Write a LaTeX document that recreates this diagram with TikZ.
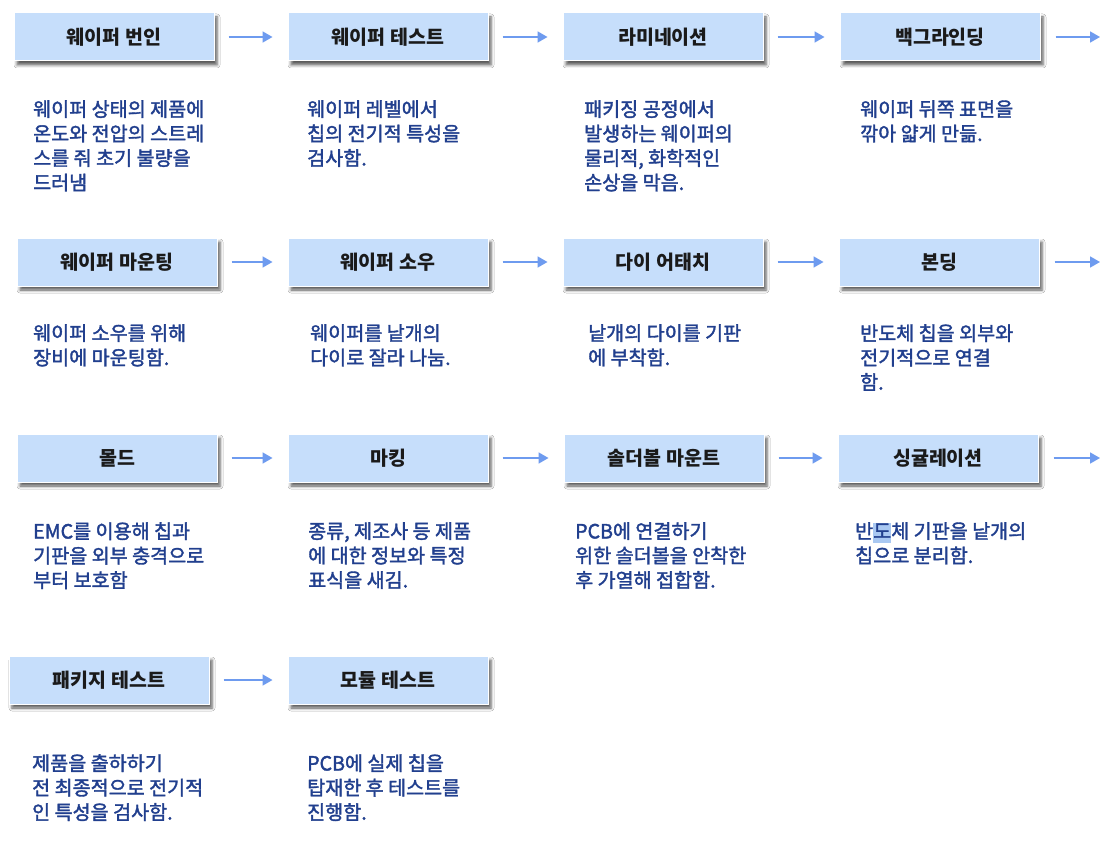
\documentclass[tikz,border=0pt]{standalone}
\usepackage{fontspec}
\newfontfamily\kr{Noto Sans CJK KR}
\newfontfamily\krmed[FakeBold=1.8]{Noto Sans CJK KR}
\usetikzlibrary{arrows.meta,shadows.blur}
\definecolor{boxfill}{HTML}{C6DEFB}
\definecolor{arrowblue}{HTML}{6E9BEF}
\definecolor{descblue}{HTML}{213F8E}
\definecolor{titleink}{HTML}{1A1A1A}
\definecolor{selblue}{HTML}{A9C8F2}
\setlength{\fboxsep}{0pt}
\newcommand{\selhl}[1]{\colorbox{selblue}{\rule[-5pt]{0pt}{20pt}#1}}
\tikzset{
  stepbox/.style={rectangle, fill=boxfill, draw=white, line width=1pt,
    minimum width=200pt, minimum height=48pt, inner sep=0pt,
    font=\kr\bfseries\fontsize{19.5}{22}\selectfont, text=titleink,
    blur shadow={shadow xshift=3pt, shadow yshift=-4pt, shadow blur radius=3pt, shadow opacity=65}},
  desc/.style={anchor=north west, inner sep=0pt, align=left, text=descblue,
    font=\krmed\fontsize{19.6}{24.5}\selectfont,
    execute at begin node={\rule{0pt}{17pt}}},
  flow/.style={draw=arrowblue, line width=1.7pt, -{Triangle[length=10pt,width=11pt]}}
}
\begin{document}
\begin{tikzpicture}[x=1pt,y=-1pt]
\useasboundingbox[fill=white] (0,0) rectangle (1116,845);

% row 1
\node[stepbox] (b1) at (114,37) {웨이퍼 번인};
\node[stepbox] (b2) at (388,37) {웨이퍼 테스트};
\node[stepbox] (b3) at (663,37) {라미네이션};
\node[stepbox] (b4) at (940,37) {백그라인딩};
\coordinate (e1) at (1100,37);
% row 2
\node[stepbox] (b5) at (117,262) {웨이퍼 마운팅};
\node[stepbox] (b6) at (388,262) {웨이퍼 소우};
\node[stepbox] (b7) at (663,262) {다이 어태치};
\node[stepbox] (b8) at (939,262) {본딩};
\coordinate (e2) at (1100,262);
% row 3
\node[stepbox] (b9) at (117,458) {몰드};
\node[stepbox] (b10) at (388,458) {마킹};
\node[stepbox] (b11) at (664,458) {솔더볼 마운트};
\node[stepbox] (b12) at (938,458) {싱귤레이션};
\coordinate (e3) at (1100,458);
% row 4
\node[stepbox] (b13) at (109,680) {패키지 테스트};
\node[stepbox] (b14) at (388,680) {모듈 테스트};

% arrows
\foreach \a/\b in {b1/b2,b2/b3,b3/b4,b5/b6,b6/b7,b7/b8,b9/b10,b10/b11,b11/b12,b13/b14}
  \draw[flow] ([xshift=14pt]\a.east) -- ([xshift=-15pt]\b.west);
\draw[flow] ([xshift=15pt]b4.east) -- (e1);
\draw[flow] ([xshift=15pt]b8.east) -- (e2);
\draw[flow] ([xshift=15pt]b12.east) -- (e3);

% descriptions
\node[desc] (d1) at (33,100) {웨이퍼 상태의 제품에\\온도와 전압의 스트레\\스를 줘 초기 불량을\\드러냄};
\node[desc] (d2) at (307,100) {웨이퍼 레벨에서\\칩의 전기적 특성을\\검사함.};
\node[desc] (d3) at (584,100) {패키징 공정에서\\발생하는 웨이퍼의\\물리적, 화학적인\\손상을 막음.};
\node[desc] (d4) at (860,100) {웨이퍼 뒤쪽 표면을\\깎아 얇게 만듦.};

\node[desc] (d5) at (33,324) {웨이퍼 소우를 위해\\장비에 마운팅함.};
\node[desc] (d6) at (310,324) {웨이퍼를 낱개의\\다이로 잘라 나눔.};
\node[desc] (d7) at (588,324) {낱개의 다이를 기판\\에 부착함.};
\node[desc] (d8) at (860,324) {반도체 칩을 외부와\\전기적으로 연결\\함.};

\node[desc] (d9) at (33,522) {EMC를 이용해 칩과\\기판을 외부 충격으로\\부터 보호함};
\node[desc] (d10) at (308,522) {종류, 제조사 등 제품\\에 대한 정보와 특정\\표식을 새김.};
\node[desc] (d11) at (575,522) {PCB에 연결하기\\위한 솔더볼을 안착한\\후 가열해 접합함.};
\node[desc] (d12) at (855,522) {반\selhl{도}체 기판을 낱개의\\칩으로 분리함.};

\node[desc] (d13) at (32,754) {제품을 출하하기\\전 최종적으로 전기적\\인 특성을 검사함.};
\node[desc] (d14) at (307,754) {PCB에 실제 칩을\\탑재한 후 테스트를\\진행함.};
\end{tikzpicture}
\end{document}
